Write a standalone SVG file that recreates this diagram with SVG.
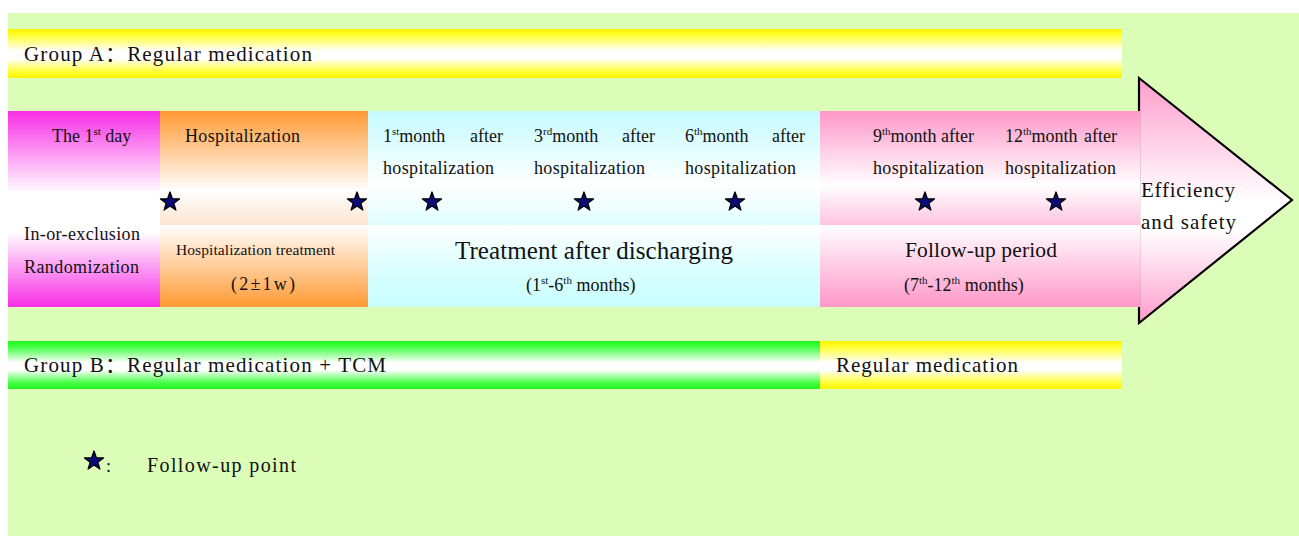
<svg xmlns="http://www.w3.org/2000/svg" width="1299" height="537" viewBox="0 0 1299 537">
<style>
text{font-family:"Liberation Serif","Noto Sans CJK SC",serif;fill:#111;}
.t18{font-size:18px;}
.t20{font-size:21px;}
.sup{font-size:11px;}
.star{fill:#0a0a78;stroke:#000;stroke-width:1.3;stroke-linejoin:round;}
</style>
<defs>
<path id="star" d="M0,-10 L2.35,-3.24 L9.51,-3.09 L3.8,1.24 L5.88,8.09 L0,4 L-5.88,8.09 L-3.8,1.24 L-9.51,-3.09 L-2.35,-3.24 Z"/>
<linearGradient id="gYel" x1="0" y1="0" x2="0" y2="1">
<stop offset="0" stop-color="#fff200"/><stop offset="0.12" stop-color="#ffff30"/><stop offset="0.45" stop-color="#ffffff"/><stop offset="0.6" stop-color="#ffffff"/><stop offset="0.88" stop-color="#ffff30"/><stop offset="1" stop-color="#fff200"/>
</linearGradient>
<linearGradient id="gGrn" x1="0" y1="0" x2="0" y2="1">
<stop offset="0" stop-color="#22f522"/><stop offset="0.12" stop-color="#40ff40"/><stop offset="0.45" stop-color="#ffffff"/><stop offset="0.6" stop-color="#ffffff"/><stop offset="0.88" stop-color="#40ff40"/><stop offset="1" stop-color="#22f522"/>
</linearGradient>
<linearGradient id="gMag" x1="0" y1="0" x2="0" y2="1">
<stop offset="0" stop-color="#f82de6"/><stop offset="0.42" stop-color="#ffffff"/><stop offset="0.62" stop-color="#ffffff"/><stop offset="1" stop-color="#f82de6"/>
</linearGradient>
<linearGradient id="gOrT" x1="0" y1="0" x2="0" y2="1">
<stop offset="0" stop-color="#ff9a33"/><stop offset="0.7" stop-color="#ffffff"/><stop offset="1" stop-color="#fde4d0"/>
</linearGradient>
<linearGradient id="gOrB" x1="0" y1="0" x2="0" y2="1">
<stop offset="0" stop-color="#ffffff"/><stop offset="1" stop-color="#ff9a33"/>
</linearGradient>
<linearGradient id="gCyT" x1="0" y1="0" x2="0" y2="1">
<stop offset="0" stop-color="#c4fbff"/><stop offset="0.65" stop-color="#ffffff"/><stop offset="1" stop-color="#e0fdff"/>
</linearGradient>
<linearGradient id="gCyB" x1="0" y1="0" x2="0" y2="1">
<stop offset="0" stop-color="#ffffff"/><stop offset="0.5" stop-color="#ddfeff"/><stop offset="1" stop-color="#c8feff"/>
</linearGradient>
<linearGradient id="gPkT" x1="0" y1="0" x2="0" y2="1">
<stop offset="0" stop-color="#ff97c8"/><stop offset="0.65" stop-color="#ffffff"/><stop offset="1" stop-color="#ffc4e0"/>
</linearGradient>
<linearGradient id="gPkB" x1="0" y1="0" x2="0" y2="1">
<stop offset="0" stop-color="#ffffff"/><stop offset="1" stop-color="#ff97c8"/>
</linearGradient>
<linearGradient id="gArr" x1="0" y1="0" x2="0" y2="1">
<stop offset="0" stop-color="#ff9ccb"/><stop offset="0.5" stop-color="#ffffff"/><stop offset="0.62" stop-color="#ffffff"/><stop offset="1" stop-color="#ff9ccb"/>
</linearGradient>
</defs>

<rect id="background" x="8" y="13" width="1291" height="523" fill="#dbfdb8"/>

<g id="groupA">
<rect x="8" y="29" width="1114" height="49" fill="url(#gYel)"/>
<text class="t20" x="24" y="61" textLength="288" lengthAdjust="spacing">Group A：Regular medication</text>
</g>

<g id="outcome-arrow">
<path d="M1139,78 L1292,200 L1139,323 Z" fill="url(#gArr)" stroke="#000" stroke-width="2.2" stroke-linejoin="miter"/>
<text class="t20" x="1141" y="197" textLength="94" lengthAdjust="spacing">Efficiency</text>
<text class="t20" x="1141" y="229" textLength="95" lengthAdjust="spacing">and safety</text>
</g>

<g id="phase-day1">
<rect x="8" y="111" width="152" height="196" fill="url(#gMag)"/>
<text class="t18" x="52" y="142">The 1<tspan class="sup" dy="-7">st</tspan><tspan dy="7"> day</tspan></text>
<text class="t18" x="24" y="240" textLength="116" lengthAdjust="spacing">In-or-exclusion</text>
<text class="t18" x="24" y="273" textLength="115" lengthAdjust="spacing">Randomization</text>
</g>

<g id="phase-hospital">
<rect x="160" y="111" width="208" height="114" fill="url(#gOrT)"/>
<rect x="160" y="225" width="208" height="82" fill="url(#gOrB)"/>
<text class="t18" x="185" y="142" textLength="115" lengthAdjust="spacing">Hospitalization</text>
<text x="176" y="255" font-size="15.5" textLength="159" lengthAdjust="spacing">Hospitalization treatment</text>
<text class="t18" x="231" y="290" textLength="64" lengthAdjust="spacing">(2±1w)</text>
</g>

<g id="phase-discharge">
<rect x="368" y="111" width="452" height="114" fill="url(#gCyT)"/>
<rect x="368" y="225" width="452" height="82" fill="url(#gCyB)"/>
<text class="t18" x="383" y="142">1<tspan class="sup" dy="-7">st</tspan><tspan dy="7">month</tspan></text>
<text class="t18" x="503" y="142" text-anchor="end">after</text>
<text class="t18" x="383" y="174" textLength="111" lengthAdjust="spacing">hospitalization</text>
<text class="t18" x="534" y="142">3<tspan class="sup" dy="-7">rd</tspan><tspan dy="7">month</tspan></text>
<text class="t18" x="655" y="142" text-anchor="end">after</text>
<text class="t18" x="534" y="174" textLength="111" lengthAdjust="spacing">hospitalization</text>
<text class="t18" x="685" y="142">6<tspan class="sup" dy="-7">th</tspan><tspan dy="7">month</tspan></text>
<text class="t18" x="805" y="142" text-anchor="end">after</text>
<text class="t18" x="685" y="174" textLength="111" lengthAdjust="spacing">hospitalization</text>
<text x="455" y="259" font-size="25" textLength="278" lengthAdjust="spacing">Treatment after discharging</text>
<text class="t18" x="526" y="291">(1<tspan class="sup" dy="-7">st</tspan><tspan dy="7">-6</tspan><tspan class="sup" dy="-7">th</tspan><tspan dy="7"> months)</tspan></text>
</g>

<g id="phase-followup">
<rect x="820" y="111" width="320" height="114" fill="url(#gPkT)"/>
<rect x="820" y="225" width="320" height="82" fill="url(#gPkB)"/>
<text class="t18" x="873" y="142">9<tspan class="sup" dy="-7">th</tspan><tspan dy="7">month after</tspan></text>
<text class="t18" x="873" y="174" textLength="111" lengthAdjust="spacing">hospitalization</text>
<text class="t18" x="1005" y="142">12<tspan class="sup" dy="-7">th</tspan><tspan dy="7">month</tspan></text>
<text class="t18" x="1117" y="142" text-anchor="end">after</text>
<text class="t18" x="1005" y="174" textLength="111" lengthAdjust="spacing">hospitalization</text>
<text x="905" y="257" font-size="21.5" textLength="152" lengthAdjust="spacing">Follow-up period</text>
<text class="t18" x="904" y="291">(7<tspan class="sup" dy="-7">th</tspan><tspan dy="7">-12</tspan><tspan class="sup" dy="-7">th</tspan><tspan dy="7"> months)</tspan></text>
</g>

<g id="followup-points">
<use href="#star" class="star" x="170" y="202"/>
<use href="#star" class="star" x="357" y="202"/>
<use href="#star" class="star" x="432" y="202"/>
<use href="#star" class="star" x="584" y="202"/>
<use href="#star" class="star" x="735" y="202"/>
<use href="#star" class="star" x="925" y="202"/>
<use href="#star" class="star" x="1056" y="202"/>
</g>

<g id="groupB">
<rect x="8" y="341" width="812" height="48" fill="url(#gGrn)"/>
<rect x="820" y="341" width="302" height="48" fill="url(#gYel)"/>
<text class="t20" x="24" y="372" textLength="362" lengthAdjust="spacing">Group B：Regular medication + TCM</text>
<text class="t20" x="836" y="372" textLength="182" lengthAdjust="spacing">Regular medication</text>
</g>

<g id="legend">
<use href="#star" class="star" x="94" y="461"/>
<text class="t18" x="106" y="472">:</text>
<text x="147" y="472" font-size="20" textLength="149" lengthAdjust="spacing">Follow-up point</text>
</g>
</svg>
